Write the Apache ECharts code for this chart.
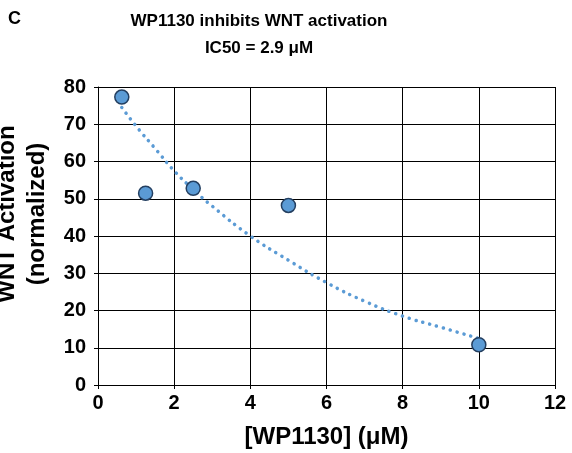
<!DOCTYPE html>
<html>
<head>
<meta charset="utf-8">
<script src="https://cdn.jsdelivr.net/npm/echarts@6/dist/echarts.min.js"></script>
<style>html,body{margin:0;padding:0;background:#fff}#c{width:572px;height:453px}</style>
</head>
<body>
<div id="c"></div>
<script>
const concentrations = [0.625, 1.25, 2.5, 5, 10];
const activation = [77.3, 51.5, 52.8, 48.2, 10.8];
const trendX = [0.625, 1, 1.5, 2, 2.5, 3, 4, 5, 6, 7, 8, 9, 10];
const trendY = [74.5, 69.5, 63.5, 57.5, 52.5, 48, 40, 33.5, 27.5, 22.5, 18.5, 15.5, 12.5];
const xTicks = [0, 2, 4, 6, 8, 10, 12];
const yTicks = [0, 10, 20, 30, 40, 50, 60, 70, 80];

const FF = "'Liberation Sans', Arial, sans-serif";
const chart = echarts.init(document.getElementById('c'));
chart.setOption({
  animation: false,
  backgroundColor: '#fff',
  title: [
    { text: 'C', left: 3, top: 5, textStyle: { fontFamily: FF, fontWeight: 'bold', fontSize: 18, color: '#000' } },
    { text: 'WP1130 inhibits WNT activation\nIC50 = 2.9 μM', left: 254, textAlign: 'center', top: 3,
      textStyle: { fontFamily: FF, fontWeight: 'bold', fontSize: 17, lineHeight: 27, color: '#000' } }
  ],
  grid: { left: 98, right: 17, top: 87, bottom: 68, outerBoundsMode: 'none', containLabel: false },
  xAxis: {
    type: 'value', min: 0, max: 12, interval: 2,
    name: '[WP1130] (μM)', nameLocation: 'middle', nameGap: 40,
    nameTextStyle: { fontFamily: FF, fontWeight: 'bold', fontSize: 24, color: '#000' },
    axisLine: { show: true, lineStyle: { color: '#000', width: 1 } },
    axisTick: { show: true, length: 4, lineStyle: { color: '#000' } },
    axisLabel: { fontFamily: FF, fontWeight: 'bold', fontSize: 20, color: '#000', margin: 8,
      formatter: v => xTicks.includes(v) ? String(v) : '' },
    splitLine: { show: true, lineStyle: { color: '#000', width: 1 } }
  },
  yAxis: {
    type: 'value', min: 0, max: 80, interval: 10,
    name: 'WNT Activation\n(normalized)', nameLocation: 'middle', nameGap: 45, nameRotate: 90,
    nameTextStyle: { fontFamily: FF, fontWeight: 'bold', fontSize: 24, lineHeight: 30, color: '#000', padding: [0, 0, 0, 44] },
    axisLine: { show: true, lineStyle: { color: '#000', width: 1 } },
    axisTick: { show: true, length: 4, lineStyle: { color: '#000' } },
    axisLabel: { fontFamily: FF, fontWeight: 'bold', fontSize: 20, color: '#000', margin: 12,
      formatter: v => yTicks.includes(v) ? String(v) : '' },
    splitLine: { show: true, lineStyle: { color: '#000', width: 1 } }
  },
  series: [
    {
      type: 'line', smooth: true, showSymbol: false, symbol: 'none',
      data: trendX.map((x, i) => [x, trendY[i]]),
      lineStyle: { color: '#5B9BD5', width: 3.5, type: [0.1, 7], cap: 'round' },
      z: 2
    },
    {
      type: 'scatter', symbol: 'circle', symbolSize: 14,
      data: concentrations.map((x, i) => [x, activation[i]]),
      itemStyle: { color: '#5B9BD5', borderColor: '#243F60', borderWidth: 1.5, opacity: 1 },
      z: 3
    }
  ]
});
</script>
</body>
</html>
